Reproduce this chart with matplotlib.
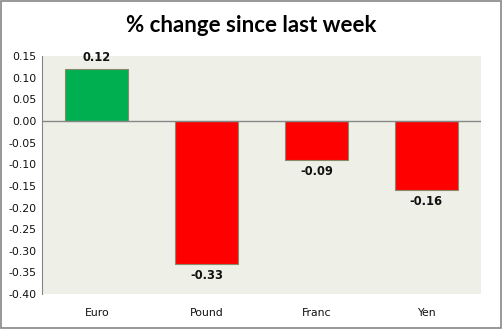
import matplotlib.pyplot as plt
from matplotlib.patches import Rectangle

# Datos
monedas = ['Euro', 'Pound', 'Franc', 'Yen']
cambios = [0.12, -0.33, -0.09, -0.16]
colores = ['#00B050' if v > 0 else '#FF0000' for v in cambios]

fig = plt.figure(figsize=(5.03, 3.29), dpi=100)
ax = fig.add_axes([0.0835, 0.106, 0.873, 0.724])
ax.set_facecolor('#EEF0E8')

x = range(len(monedas))
ax.bar(x, cambios, width=0.575, color=colores, edgecolor='#8a8a6a', linewidth=0.8, zorder=3)

# Etiquetas de valor
for xi, v in zip(x, cambios):
    off = 0.012 if v > 0 else -0.012
    ax.text(xi, v + off, f'{v:.2f}', ha='center', va='bottom' if v > 0 else 'top',
            fontsize=8.3, fontweight='bold', family='DejaVu Sans', color='#111111')

ax.set_xlim(-0.5, len(monedas) - 0.5)
ax.set_ylim(-0.40, 0.15)
ax.set_yticks([i / 100 for i in range(-40, 16, 5)])
ax.set_yticklabels([f'{i / 100:.2f}' for i in range(-40, 16, 5)])
ax.set_xticks(list(x))
ax.set_xticklabels(monedas)
ax.tick_params(axis='both', length=0, labelsize=7.8, colors='#111111')
ax.tick_params(axis='x', pad=10)
ax.tick_params(axis='y', pad=4)

for s in ['top', 'right', 'bottom']:
    ax.spines[s].set_visible(False)
ax.spines['left'].set_color('#868686')
ax.axhline(0, color='#868686', linewidth=1, zorder=4)

fig.text(0.5, 0.922, '% change since last week', ha='center', va='center',
         fontsize=16, fontweight='bold', family='Lato')

# Borde exterior
fig.patches.append(Rectangle((0.002, 0.003), 0.995, 0.993, transform=fig.transFigure,
                             fill=False, edgecolor='#868686', linewidth=1.2))

fig.savefig('out.png', dpi=100)
